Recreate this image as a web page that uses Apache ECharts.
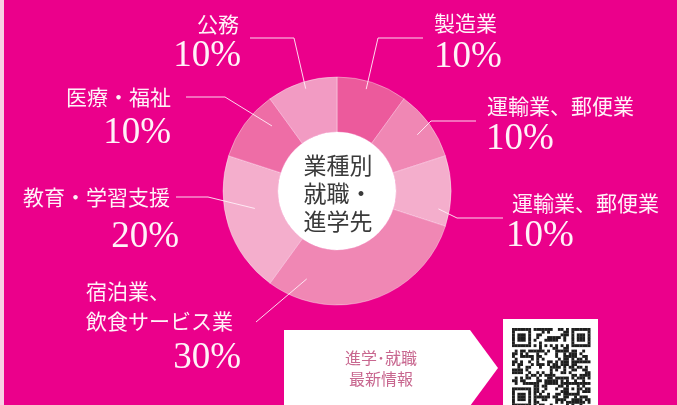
<!DOCTYPE html>
<html>
<head>
<meta charset="utf-8">
<script src="https://cdn.jsdelivr.net/npm/echarts@6/dist/echarts.min.js"></script>
<style>
html, body { margin: 0; padding: 0; background: #EB008B; }
#chart { width: 677px; height: 405px; }
</style>
</head>
<body>
<div id="chart"></div>
<script>
// Industry breakdown of graduates' destinations (percent)
const categories = ['製造業', '運輸業、郵便業', '運輸業、郵便業', '宿泊業、\n飲食サービス業', '教育・学習支援', '医療・福祉', '公務'];
const shares = [10, 10, 10, 30, 20, 10, 10];
const sliceColors = ['#EC5A9C', '#F087B4', '#F4AECC', '#F087B4', '#F4AECC', '#EE6DA6', '#F29BC3'];
const centerTitle = ['業種別', '就職・', '進学先'];
const bannerLines = ['進学･就職', '最新情報'];

const CX = 337, CY = 191, R_IN = 59, R_OUT = 114;

// Where each label sits and how its leader line bends
const labelPlacement = [
  { name: { x: 434, y: 23, align: 'left' },  pct: { x: 434, y: 57, align: 'left' },  ring: { r: 106, da: -2 }, bend: [378, 38],  end: [423, 38] },
  { name: { x: 487, y: 106, align: 'left' }, pct: { x: 486, y: 139, align: 'left' }, ring: { r: 98, da: 1 },   bend: [431, 121], end: [476, 121] },
  { name: { x: 512, y: 203, align: 'left' }, pct: { x: 506, y: 236, align: 'left' }, ring: { r: 103, da: 10 }, bend: [457, 218], end: [503, 218] },
  { name: { x: 86, y: 306, align: 'left', lh: 30 }, pct: { x: 241, y: 358, align: 'right' }, ring: { r: 93, da: 37 }, bend: null, end: [256, 322] },
  { name: { x: 170, y: 197, align: 'right' }, pct: { x: 179, y: 237, align: 'right' }, ring: { r: 84, da: 6 }, bend: [208, 197], end: [176, 197] },
  { name: { x: 171, y: 97, align: 'right' },  pct: { x: 171, y: 133, align: 'right' }, ring: { r: 92, da: 9 }, bend: [225, 97],  end: [186, 97] },
  { name: { x: 239, y: 24, align: 'right' },  pct: { x: 241, y: 56, align: 'right' },  ring: { r: 107, da: 1 }, bend: [294, 38],  end: [250, 38] }
];

const NAME_FONT = '21px "Noto Sans CJK JP", "Noto Sans", sans-serif';
const PCT_FONT = '37px "Liberation Serif", "DejaVu Serif", serif';
const LABEL_FILL = '#FFF2F8';
const LINE_COLOR = 'rgba(255,240,248,0.9)';

// Mid angle (degrees clockwise from 12 o'clock) of each slice
const total = shares.reduce((a, b) => a + b, 0);
const midAngles = [];
let acc = 0;
shares.forEach(v => { midAngles.push((acc + v / 2) / total * 360); acc += v; });

const graphics = [];

// pale strip along the left edge
graphics.push({ type: 'rect', shape: { x: 0, y: 0, width: 4, height: 405 }, style: { fill: '#F8CFE3' }, z: 1 });

// white hub of the donut with its caption
graphics.push({ type: 'circle', shape: { cx: CX, cy: CY, r: R_IN }, style: { fill: '#FFFFFF' }, z: 10 });
centerTitle.forEach((t, i) => {
  graphics.push({
    type: 'text', z: 11,
    style: { text: t, x: CX + 1, y: CY - 26 + i * 28, fill: '#3A3A3A', font: '23px "Noto Sans CJK JP", sans-serif', align: 'center', verticalAlign: 'middle' }
  });
});

// labels and leader lines
categories.forEach((name, i) => {
  const p = labelPlacement[i];
  const a = (midAngles[i] + p.ring.da) * Math.PI / 180;
  const anchor = [CX + p.ring.r * Math.sin(a), CY - p.ring.r * Math.cos(a)];
  const pts = p.bend ? [anchor, p.bend, p.end] : [anchor, p.end];
  graphics.push({ type: 'polyline', z: 12, shape: { points: pts }, style: { stroke: LINE_COLOR, lineWidth: 1, fill: null } });
  graphics.push({
    type: 'text', z: 12,
    style: { text: name, x: p.name.x, y: p.name.y, fill: LABEL_FILL, font: NAME_FONT, align: p.name.align, verticalAlign: 'middle', lineHeight: p.name.lh || 24 }
  });
  graphics.push({
    type: 'text', z: 12,
    style: { text: shares[i] + '%', x: p.pct.x, y: p.pct.y, fill: LABEL_FILL, font: PCT_FONT, align: p.pct.align, verticalAlign: 'middle' }
  });
});

// arrow banner
graphics.push({
  type: 'polygon', z: 5,
  shape: { points: [[284, 330], [470, 330], [498, 368], [470, 406], [284, 406]] },
  style: { fill: '#FFFFFF' }
});
bannerLines.forEach((t, i) => {
  graphics.push({
    type: 'text', z: 6,
    style: { text: t, x: 381, y: 358 + i * 21, fill: '#C8678F', font: '16px "Noto Sans CJK JP", sans-serif', align: 'center', verticalAlign: 'middle' }
  });
});

// QR code tile
graphics.push({ type: 'rect', z: 5, shape: { x: 503, y: 319, width: 95, height: 90 }, style: { fill: '#FFFFFF' } });
(function drawQr() {
  const N = 29, M = 2.7, ox = 512, oy = 328;
  const grid = [];
  let seed = 73129;
  const bit = () => { seed = (seed * 1103515245 + 12345) & 0x7fffffff; return (seed >> 16) & 1; };
  for (let r = 0; r < N; r++) { grid.push([]); for (let c = 0; c < N; c++) grid[r].push(bit()); }
  const finder = (r0, c0) => {
    for (let r = -1; r <= 7; r++) for (let c = -1; c <= 7; c++) {
      const rr = r0 + r, cc = c0 + c;
      if (rr < 0 || cc < 0 || rr >= N || cc >= N) continue;
      let on = 0;
      if (r >= 0 && r <= 6 && c >= 0 && c <= 6) {
        on = (r === 0 || r === 6 || c === 0 || c === 6 || (r >= 2 && r <= 4 && c >= 2 && c <= 4)) ? 1 : 0;
      }
      grid[rr][cc] = on;
    }
  };
  finder(0, 0); finder(0, N - 7); finder(N - 7, 0);
  for (let k = 8; k < N - 8; k++) { grid[6][k] = k % 2 === 0 ? 1 : 0; grid[k][6] = k % 2 === 0 ? 1 : 0; }
  for (let r = -2; r <= 2; r++) for (let c = -2; c <= 2; c++) {
    grid[22 + r][22 + c] = (Math.max(Math.abs(r), Math.abs(c)) !== 1) ? 1 : 0;
  }
  for (let r = 0; r < N; r++) for (let c = 0; c < N; c++) {
    if (grid[r][c]) graphics.push({ type: 'rect', z: 6, shape: { x: ox + c * M, y: oy + r * M, width: M + 0.2, height: M + 0.2 }, style: { fill: '#1E1E1E' } });
  }
})();

const chart = echarts.init(document.getElementById('chart'), null, { renderer: 'canvas' });
chart.setOption({
  backgroundColor: '#EB008B',
  animation: false,
  series: [{
    type: 'pie',
    center: [CX, CY],
    radius: [R_IN, R_OUT],
    startAngle: 90,
    clockwise: true,
    label: { show: false },
    labelLine: { show: false },
    emphasis: { disabled: true },
    itemStyle: { borderColor: 'rgba(255,255,255,0.35)', borderWidth: 1 },
    data: categories.map((c, i) => ({ name: c, value: shares[i], itemStyle: { color: sliceColors[i] } })),
    z: 2
  }],
  graphic: graphics
});
</script>
</body>
</html>
